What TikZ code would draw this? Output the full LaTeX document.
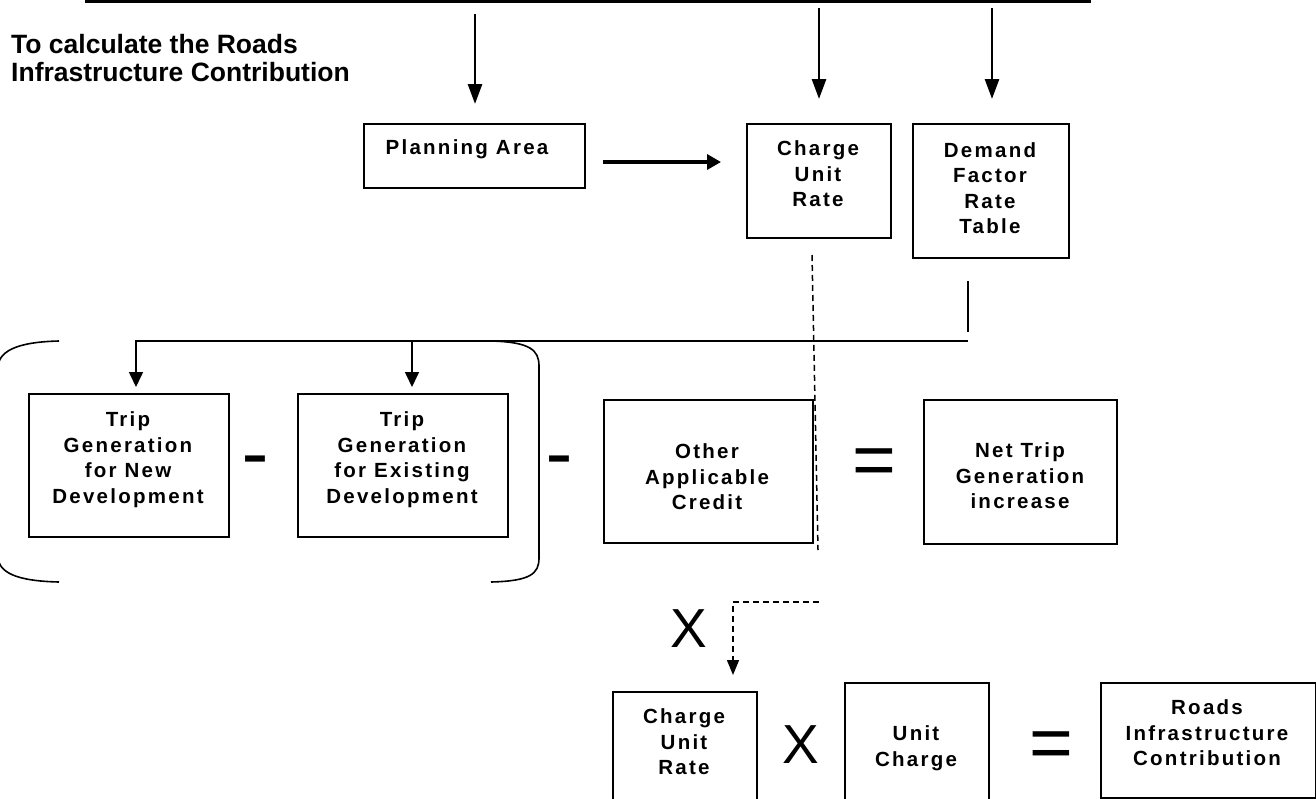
\documentclass[tikz,border=0pt]{standalone}
\usepackage{fontspec}
\setmainfont{Liberation Sans}
\newfontfamily\boxfont[LetterSpace=11]{Liberation Sans}
\newfontfamily\minusfont[FakeStretch=1.5]{Liberation Sans}
\usetikzlibrary{arrows.meta}
\begin{document}
\begin{tikzpicture}[x=1pt,y=-1pt,
  box/.style={draw=black,line width=1.7pt,anchor=north west,inner sep=0pt},
  btxt/.style={font=\boxfont\bfseries\fontsize{20.5}{25.5}\selectfont,align=center,inner sep=0pt},
  ln/.style={line width=1.6pt},
  conn/.style={line width=1.6pt,-{Triangle[length=15pt,width=14pt]}},
  topar/.style={line width=2.8pt,-{Triangle[length=20pt,width=14pt]}},
  bigar/.style={line width=3.4pt,-{Triangle[length=14pt,width=15pt]}},
  dline/.style={line width=1.5pt,dash pattern=on 6pt off 4pt},
  darrow/.style={dline,-{Triangle[length=15pt,width=12pt]}},
  minus/.style={font=\minusfont\bfseries\fontsize{52}{52}\selectfont,inner sep=0pt,anchor=base},
  eqs/.style={font=\fontsize{75}{75}\selectfont,inner sep=0pt,anchor=base},
  times/.style={font=\fontsize{55}{55}\selectfont,inner sep=0pt,anchor=base},
  title/.style={font=\bfseries\fontsize{26.5}{29}\selectfont,inner sep=0pt,anchor=base west},
  brk/.style={line width=1.6pt}
]
\useasboundingbox (0,0) rectangle (1316,798);
\clip (0,0) rectangle (1316,798);
\fill[white] (0,0) rectangle (1316,798);

% top rule
\draw[line width=2.6pt] (85,1.3) -- (1091,1.3);

% title
\node[title] (title1) at (11,53) {To calculate the Roads};
\node[title] (title2) at (11,81) {Infrastructure Contribution};

% boxes
\node[box,minimum width=221pt,minimum height=64pt] (pa) at (363,123) {};
\node[box,minimum width=144pt,minimum height=114pt] (cur) at (746,123) {};
\node[box,minimum width=156pt,minimum height=134pt] (dem) at (912,123) {};
\node[box,minimum width=200pt,minimum height=143pt] (tn) at (28,393) {};
\node[box,minimum width=210pt,minimum height=143pt] (te) at (297,393) {};
\node[box,minimum width=209pt,minimum height=143pt] (oc) at (603,399) {};
\node[box,minimum width=193pt,minimum height=144pt] (nt) at (923,399) {};
\node[box,minimum width=144pt,minimum height=130pt] (cb) at (612,691) {};
\node[box,minimum width=144pt,minimum height=130pt] (uc) at (844,682) {};
\node[box,minimum width=215pt,minimum height=115pt] (rc) at (1100,682) {};

% box texts
\node[btxt] (paT) at (467,149) {Planning Area};
\node[btxt] (curT) at (818,174) {Charge\\Unit\\Rate};
\node[btxt] (demT) at (990,188) {Demand\\Factor\\Rate\\Table};
\node[btxt] (tnT) at (128,459.5) {Trip\\Generation\\for New\\Development};
\node[btxt] (teT) at (402,459.5) {Trip\\Generation\\for Existing\\Development};
\node[btxt] (ocT) at (707,477) {Other\\Applicable\\Credit};
\node[btxt] (ntT) at (1020,476) {Net Trip\\Generation\\increase};
\node[btxt] (cbT) at (684,742) {Charge\\Unit\\Rate};
\node[btxt] (ucT) at (916,748) {Unit\\Charge};
\node[btxt] (rcT) at (1207,733) {Roads\\Infrastructure\\Contribution};

% operators
\node[minus] (m1) at (255,472) {-};
\node[minus] (m2) at (559,472) {-};
\node[eqs] (e1) at (874,485) {=};
\node[eqs] (e2) at (1051,768) {=};
\node[times] (x1) at (689,647) {X};
\node[times] (x2) at (801,763) {X};

% top arrows
\coordinate (t1) at (475,14);
\coordinate (t2) at (819,8);
\coordinate (t3) at (992,8);
\draw[topar,shorten >=19pt] (t1) -- (t1 |- pa.north);
\draw[topar,shorten >=24pt] (t2) -- (t2 |- cur.north);
\draw[topar,shorten >=24pt] (t3) -- (t3 |- dem.north);

% planning -> charge
\coordinate (pa1) at (584,162);
\coordinate (cu1) at (746,162);
\draw[bigar,shorten <=19pt,shorten >=25pt] (pa1) -- (cu1);

% branch from demand
\coordinate (v1) at (968,281);
\coordinate (v2) at (968,332);
\coordinate (h1) at (968,341);
\coordinate (h2) at (136,341);
\coordinate (h3) at (412,341);
\draw[ln] (v1) -- (v2);
\draw[conn,shorten >=6pt] (h1) -- (h2) -- (h2 |- tn.north);
\draw[conn,shorten >=6pt] (h3) -- (h3 |- te.north);

% dashed link
\coordinate (dA) at (812,255);
\coordinate (dB) at (818,550);
\coordinate (dC) at (819,602);
\coordinate (dD) at (733,602);
\draw[dline] (dA) -- (dB);
\draw[darrow,shorten >=16pt] (dC) -- (dD) -- (dD |- cb.north);

% brackets
\draw[brk] (59,341) .. controls (15,342) and (-2,352) .. (-2,368) -- (-2,556)
  .. controls (-2,572) and (15,581) .. (59,582);
\draw[brk] (491,341) .. controls (530,342) and (539,350) .. (539,366) -- (539,558)
  .. controls (539,574) and (530,581) .. (491,582);
\end{tikzpicture}
\end{document}
